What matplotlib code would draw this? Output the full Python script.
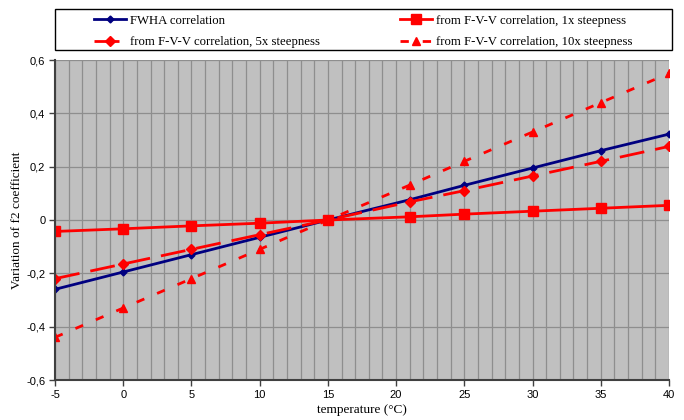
import numpy as np
import matplotlib
matplotlib.use("Agg")
import matplotlib.pyplot as plt
from matplotlib.patches import Rectangle
from matplotlib.ticker import FuncFormatter, MultipleLocator

# temperatures (°C) and f2 variation
temps = [-5, 0, 5, 10, 15, 21, 25, 30, 35, 40]
fwha = [-0.26, -0.195, -0.13, -0.065, 0.0, 0.076, 0.13, 0.195, 0.26, 0.322]
fvv_1x = [-0.043, -0.033, -0.022, -0.012, 0.0, 0.012, 0.022, 0.033, 0.044, 0.055]
fvv_5x = [-0.22, -0.165, -0.11, -0.055, 0.0, 0.068, 0.11, 0.165, 0.22, 0.276]
fvv_10x = [-0.44, -0.33, -0.22, -0.11, 0.0, 0.131, 0.22, 0.33, 0.44, 0.55]

serif = "Liberation Serif"
sans = "Liberation Sans"
plt.rcParams["axes.unicode_minus"] = False

W, H = 684, 420
fig = plt.figure(figsize=(6.84, 4.2), dpi=100)
ax = fig.add_axes([55/W, 1-380/H, 614/W, 320/H])
ax.set_facecolor("#c0c0c0")

l1, = ax.plot(temps, fwha, color="#000080", lw=2, marker="D", ms=3.5,
              label="FWHA correlation")
l2, = ax.plot(temps, fvv_1x, color="red", lw=2, marker="s", ms=7,
              label="from F-V-V correlation, 1x steepness")
l3, = ax.plot(temps, fvv_5x, color="red", lw=2, marker="D", ms=5,
              dashes=(9, 4), label="from F-V-V correlation, 5x steepness")
l4, = ax.plot(temps, fvv_10x, color="red", lw=2, marker="^", ms=6,
              dashes=(3, 5), label="from F-V-V correlation, 10x steepness")

ax.set_xlim(-5, 40)
ax.set_ylim(-0.6, 0.6)
ax.xaxis.set_major_locator(MultipleLocator(5))
ax.xaxis.set_minor_locator(MultipleLocator(1))
ax.yaxis.set_major_locator(MultipleLocator(0.2))
ax.grid(True, which="both", axis="x", color="#8e8e8e", lw=0.9)
ax.grid(True, which="major", axis="y", color="#8e8e8e", lw=0.9)
ax.set_axisbelow(True)
ax.tick_params(which="minor", length=0)
ax.tick_params(which="major", length=4, width=1, color="#404040",
               labelsize=8)
ax.tick_params(axis="x", pad=3)
ax.tick_params(axis="y", pad=3)
for lab in ax.get_xticklabels() + ax.get_yticklabels():
    lab.set_fontfamily(sans)

def fmt(v, pos):
    if abs(v) < 1e-9:
        return "0"
    return ("%.1f" % v).replace(".", ",")

ax.yaxis.set_major_formatter(FuncFormatter(fmt))

for s in ["top", "right"]:
    ax.spines[s].set_visible(False)
for s in ["left", "bottom"]:
    ax.spines[s].set_color("#404040")
    ax.spines[s].set_linewidth(1.5)

ax.set_xlabel("temperature (°C)", fontfamily=serif, fontsize=9.5, labelpad=3)
ax.set_ylabel("Variation of f2 coefficient", fontfamily=serif, fontsize=9.5,
              labelpad=2)

# legend frame spans the plot width, entries sit inside without their own frame
fig.patches.append(Rectangle((55/W, 1-50/H), 617/W, 41/H,
                             transform=fig.transFigure, facecolor="white",
                             edgecolor="black", lw=1.0, zorder=0))
leg = fig.legend([l1, l3, l2, l4],
                 [l1.get_label(), l3.get_label(), l2.get_label(), l4.get_label()],
                 loc="upper left", ncol=2, frameon=False,
                 bbox_to_anchor=(90/W, 1-11/H),
                 prop={"family": serif, "size": 9.2},
                 handlelength=2.5, handletextpad=0.3, columnspacing=6.3,
                 borderaxespad=0, borderpad=0.3, labelspacing=0.75)

fig.savefig("out.png", dpi=100)
